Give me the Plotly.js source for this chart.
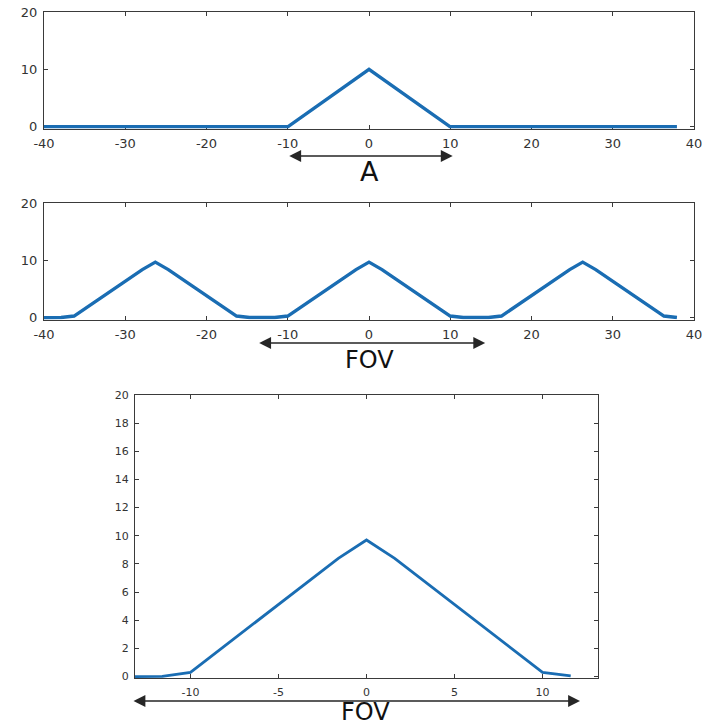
<!DOCTYPE html>
<html>
<head>
<meta charset="utf-8">
<script src="https://cdn.plot.ly/plotly-3.0.1.min.js"></script>
<style>html,body{margin:0;padding:0;background:#fff;}#chart{width:702px;height:727px;}</style>
</head>
<body>
<div id="chart"></div>
<script>
// Panel 1: single triangle
const topX = [-40, -10, 0, 10, 37.9];
const topY = [0, 0, 10, 0, 0];
// Panel 2: periodic triangles
const midX = [-40, -37.9, -36.3, -27.9, -26.3, -24.7, -16.3, -14.7, -11.6, -10, -1.6, 0, 1.6, 10, 11.6, 14.7, 16.3, 24.7, 26.3, 27.9, 36.3, 37.9];
const midY = [0, 0.05, 0.3, 8.4, 9.7, 8.4, 0.3, 0.05, 0.05, 0.3, 8.4, 9.7, 8.4, 0.3, 0.05, 0.05, 0.3, 8.4, 9.7, 8.4, 0.3, 0.05];
// Panel 3: zoom on one period
const botX = [-13.15, -11.6, -10, -1.6, 0, 1.6, 10, 11.6];
const botY = [0, 0.02, 0.3, 8.4, 9.7, 8.4, 0.3, 0.05];

const wideTicks = [-40, -30, -20, -10, 0, 10, 20, 30, 40];
const wideTickText = ['-40', '-30', '-20', '-10', '0', '10', '20', '30', '40'];
const wideYTicks = [0, 10, 20];
const zoomTicks = [-10, -5, 0, 5, 10];
const zoomTickText = ['-10', '-5', '0', '5', '10'];
const zoomYTicks = [0, 2, 4, 6, 8, 10, 12, 14, 16, 18, 20];

const labelA = 'A';
const labelFOV = 'FOV';

const W = 702, H = 727;
const px = v => v / W;
const py = v => 1 - v / H;

const lineColor = '#1a6db3';
const axisColor = '#3a3a3a';
const tickFont = {family: 'DejaVu Sans, Liberation Sans, Arial', size: 13, color: '#333'};
const smallTickFont = {family: 'DejaVu Sans, Liberation Sans, Arial', size: 11, color: '#333'};

function axis(extra) {
  return Object.assign({
    showline: true, mirror: 'ticks', linecolor: axisColor, linewidth: 1,
    ticks: 'inside', ticklen: 4, tickcolor: axisColor, tickwidth: 1,
    showgrid: false, zeroline: false, fixedrange: true, layer: 'below traces',
    ticklabeloverflow: 'allow', tickfont: tickFont
  }, extra);
}

const traces = [
  {x: topX, y: topY, xaxis: 'x', yaxis: 'y', mode: 'lines', line: {color: lineColor, width: 3.4}, hoverinfo: 'skip'},
  {x: midX, y: midY, xaxis: 'x2', yaxis: 'y2', mode: 'lines', line: {color: lineColor, width: 3.4}, hoverinfo: 'skip'},
  {x: botX, y: botY, xaxis: 'x3', yaxis: 'y3', mode: 'lines', line: {color: lineColor, width: 2.8}, hoverinfo: 'skip'}
];

const arrowStyle = {
  showarrow: true, arrowside: 'end+start', arrowhead: 2, startarrowhead: 2,
  arrowsize: 1.7, startarrowsize: 1.7, arrowwidth: 1.4, arrowcolor: '#262626', text: ''
};
const bigFont = {family: 'DejaVu Sans, Arial', size: 24, color: '#111'};

const layout = {
  width: W, height: H,
  margin: {l: 0, r: 0, t: 0, b: 0},
  paper_bgcolor: '#fff', plot_bgcolor: '#fff',
  showlegend: false,
  xaxis: axis({domain: [px(44), px(694)], range: [-40, 40], tickvals: wideTicks, ticktext: wideTickText, anchor: 'y', ticklabelstandoff: 3}),
  yaxis: axis({domain: [py(128.5), py(12)], range: [-0.3, 20], tickvals: wideYTicks, anchor: 'x', ticklabelstandoff: 3}),
  xaxis2: axis({domain: [px(44), px(694)], range: [-40, 40], tickvals: wideTicks, ticktext: wideTickText, anchor: 'y2', ticklabelstandoff: 3}),
  yaxis2: axis({domain: [py(319.5), py(203)], range: [-0.3, 20], tickvals: wideYTicks, anchor: 'x2', ticklabelstandoff: 3}),
  xaxis3: axis({domain: [px(135), px(598)], range: [-13.15, 13.15], tickvals: zoomTicks, ticktext: zoomTickText, anchor: 'y3', tickfont: smallTickFont, ticklabelstandoff: 4}),
  yaxis3: axis({domain: [py(678), py(395)], range: [-0.1, 20], tickvals: zoomYTicks, anchor: 'x3', tickfont: smallTickFont, ticklabelstandoff: 3}),
  annotations: [
    Object.assign({}, arrowStyle, {xref: 'x', yref: 'paper', x: 10.3, y: py(156), axref: 'x', ayref: 'pixel', ax: -10, ay: 0}),
    {text: labelA, xref: 'x', yref: 'paper', x: 0, y: py(171), xanchor: 'center', yanchor: 'middle', showarrow: false, font: {family: 'DejaVu Sans, Arial', size: 27, color: '#111'}},
    Object.assign({}, arrowStyle, {xref: 'x2', yref: 'paper', x: 14.3, y: py(343), axref: 'x2', ayref: 'pixel', ax: -13.7, ay: 0}),
    {text: labelFOV, xref: 'x2', yref: 'paper', x: 0.1, y: py(360), xanchor: 'center', yanchor: 'middle', showarrow: false, font: bigFont},
    Object.assign({}, arrowStyle, {xref: 'paper', yref: 'paper', x: px(580), y: py(701), axref: 'pixel', ayref: 'pixel', ax: -448, ay: 0}),
    {text: labelFOV, xref: 'paper', yref: 'paper', x: px(365), y: py(712), xanchor: 'center', yanchor: 'middle', showarrow: false, font: bigFont}
  ]
};

Plotly.newPlot('chart', traces, layout, {displayModeBar: false, staticPlot: true});
</script>
</body>
</html>
